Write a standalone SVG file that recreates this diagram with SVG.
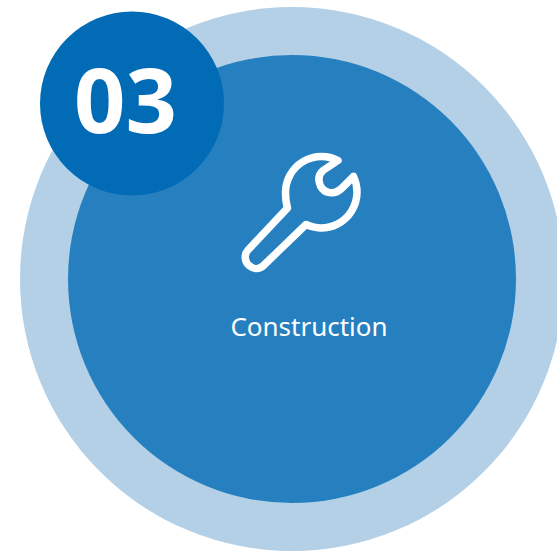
<svg xmlns="http://www.w3.org/2000/svg" width="557" height="551" viewBox="0 0 557 551">
<style>
.icon{fill:none;stroke:#fff;stroke-width:7.500;stroke-linejoin:round;stroke-linecap:round}
text{fill:#fff;text-anchor:middle}
</style>
<rect width="557" height="551" fill="#fff"/>
<g id="outer-ring"><circle cx="292" cy="279" r="272" fill="#b3d0e7"/></g>
<g id="main-node">
<circle cx="292" cy="279" r="224" fill="#2680c0"/>
<path class="icon" d="M338,160.500 A36,36 0 0 0 285.500,192 C285.500,198 286,203 287.500,208 L248,250 C243.500,255 245,262 249,265.500 C253,269 259,270 263.500,265.500 L306,224.500 C311,226.500 316,228 321,228 A36,36 0 0 0 353.500,176.500 L342,188 C334,196 324,193 320.500,186 C317.500,179 319,174 323,170.500 Z"/>
<text x="309" y="336" font-family="'Noto Sans','Open Sans',sans-serif" font-size="26">Construction</text>
</g>
<g id="badge">
<circle cx="132" cy="103.500" r="92" fill="#026bb6"/>
<text x="125.500" y="133" font-family="'Noto Sans','Open Sans',sans-serif" font-weight="700" font-size="90">03</text>
</g>
</svg>
